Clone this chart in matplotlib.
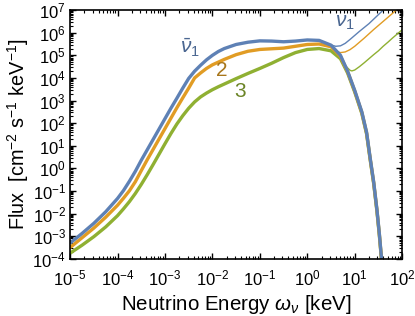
import numpy as np
import matplotlib
matplotlib.use('Agg')
import matplotlib.pyplot as plt
from matplotlib.ticker import LogLocator, NullFormatter

plt.rcParams['font.family'] = ['Liberation Sans', 'DejaVu Sans']
plt.rcParams['mathtext.fontset'] = 'custom'
plt.rcParams['mathtext.rm'] = 'Liberation Sans'
plt.rcParams['mathtext.it'] = 'Liberation Sans:italic'

# log10 of energy [keV] and log10 of flux
logE_thick = [-5.0, -4.75, -4.5, -4.25, -4.0, -3.875, -3.75, -3.625, -3.5, -3.375,
              -3.25, -3.125, -3.0, -2.875, -2.75, -2.625, -2.5, -2.375, -2.25, -2.125,
              -2.0, -1.875, -1.75, -1.5, -1.25, -1.0, -0.75, -0.5, -0.25, 0.0, 0.25,
              0.5, 0.7, 0.85, 1.0, 1.15, 1.25, 1.33, 1.4, 1.47, 1.52, 1.57]
logF_nubar1 = [-3.3, -2.88, -2.43, -1.92, -1.33, -0.98, -0.57, -0.13, 0.36, 0.82,
               1.28, 1.74, 2.2, 2.66, 3.1, 3.55, 3.98, 4.3, 4.56, 4.8,
               5.0, 5.17, 5.3, 5.48, 5.58, 5.64, 5.63, 5.6, 5.63, 5.68, 5.66,
               5.45, 5.0, 4.3, 3.45, 2.5, 1.6, 0.4, -0.6, -1.85, -2.9, -4.1]
logF_2 = [-3.5, -3.07, -2.64, -2.16, -1.63, -1.32, -0.99, -0.59, -0.1, 0.38,
          0.84, 1.3, 1.76, 2.22, 2.68, 3.12, 3.55, 4.0, 4.22, 4.42,
          4.58, 4.7, 4.82, 5.03, 5.18, 5.26, 5.29, 5.32, 5.4, 5.48, 5.5,
          5.38, 4.95, 4.28, 3.42, 2.47, 1.57, 0.37, -0.63, -1.88, -2.93, -4.13]
logF_3 = [-3.75, -3.4, -3.02, -2.59, -2.09, -1.79, -1.47, -1.11, -0.71, -0.28,
          0.17, 0.63, 1.09, 1.54, 1.96, 2.33, 2.66, 2.94, 3.16, 3.33,
          3.48, 3.61, 3.73, 3.97, 4.2, 4.42, 4.65, 4.9, 5.12, 5.26, 5.3,
          5.2, 4.85, 4.22, 3.38, 2.43, 1.53, 0.33, -0.67, -1.92, -2.97, -4.17]

# thin branches rising above the thermal peak
logE_thin1 = [0.5, 0.6, 0.7, 0.8, 0.9, 1.0, 1.1, 1.2, 1.3, 1.4, 1.5, 1.6]
logF_nu1 = [5.46, 5.4, 5.42, 5.53, 5.7, 5.88, 6.06, 6.23, 6.4, 6.6, 6.8, 7.0]
logE_thin2 = [0.5, 0.6, 0.7, 0.8, 0.9, 1.0, 1.1, 1.2, 1.3, 1.4, 1.5, 1.6, 1.7, 1.8, 1.87]
logF_thin2 = [5.38, 5.18, 5.12, 5.15, 5.25, 5.4, 5.58, 5.76, 5.95, 6.14, 6.32, 6.5, 6.68, 6.86, 7.0]
logE_thin3 = [0.7, 0.8, 0.9, 0.94, 1.0, 1.1, 1.2, 1.3, 1.4, 1.5, 1.6, 1.7, 1.8, 1.9, 2.0]
logF_thin3 = [4.87, 4.55, 4.34, 4.31, 4.35, 4.5, 4.67, 4.85, 5.03, 5.2, 5.4, 5.58, 5.77, 5.95, 6.13]

blue = '#5E81B5'
orange = '#E19C24'
green = '#8FB032'

fig = plt.figure(figsize=(4.15, 3.16), dpi=100)
ax = fig.add_axes([0.169, 0.181, 0.8, 0.787])

E = 10.0 ** np.array(logE_thick)
ax.plot(10.0 ** np.array(logE_thin3), 10.0 ** np.array(logF_thin3), color=green, lw=1.0)
ax.plot(10.0 ** np.array(logE_thin2), 10.0 ** np.array(logF_thin2), color=orange, lw=1.0)
ax.plot(10.0 ** np.array(logE_thin1), 10.0 ** np.array(logF_nu1), color=blue, lw=1.0)
ax.plot(E, 10.0 ** np.array(logF_3), color=green, lw=2.4, solid_capstyle='butt')
ax.plot(E, 10.0 ** np.array(logF_2), color=orange, lw=2.4, solid_capstyle='butt')
ax.plot(E, 10.0 ** np.array(logF_nubar1), color=blue, lw=2.4, solid_capstyle='butt')

ax.set_xscale('log')
ax.set_yscale('log')
ax.set_xlim(1e-5, 1e2)
ax.set_ylim(1e-4, 1e7)

ax.xaxis.set_major_locator(LogLocator(base=10, numticks=20))
ax.yaxis.set_major_locator(LogLocator(base=10, numticks=20))
ax.xaxis.set_minor_locator(LogLocator(base=10, subs=np.arange(2, 10), numticks=20))
ax.yaxis.set_minor_locator(LogLocator(base=10, subs=np.arange(2, 10), numticks=20))
ax.xaxis.set_minor_formatter(NullFormatter())
ax.yaxis.set_minor_formatter(NullFormatter())
ax.tick_params(which='both', direction='in', top=True, right=True, labelsize=12)
ax.tick_params(which='major', length=4, width=1)
ax.tick_params(which='minor', length=2, width=0.8)
ax.tick_params(axis='x', pad=7)
ax.tick_params(axis='y', pad=3)
for s in ax.spines.values():
    s.set_linewidth(1.2)

ax.set_xlabel(r'Neutrino Energy $\omega_\nu$ [keV]', fontsize=14.8, labelpad=3)
ax.set_ylabel(r'Flux  [cm$^{-2}$ s$^{-1}$ keV$^{-1}$]', fontsize=14.3, labelpad=1)

ax.text(3.4e-3, 2.1e5, r'$\bar{\nu}_1$', color='#4B6791', fontsize=15, ha='center', va='center')
ax.text(0.016, 2.2e4, '2', color='#A8761B', fontsize=15, ha='center', va='center')
ax.text(0.038, 2.5e3, '3', color='#6B8426', fontsize=15, ha='center', va='center')
ax.text(6.3, 2.9e6, r'$\nu_1$', color='#4B6791', fontsize=15, ha='center', va='center')

fig.savefig('out.png', dpi=100)
